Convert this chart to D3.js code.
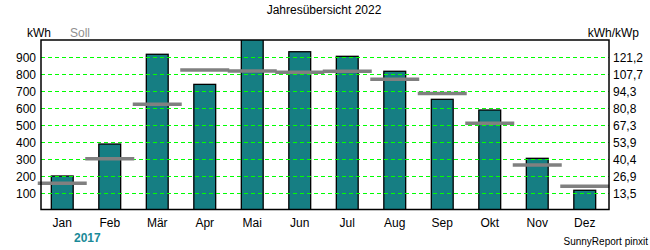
<!DOCTYPE html>
<html><head><meta charset="utf-8">
<script src="https://cdn.jsdelivr.net/npm/d3@7"></script>
<style>body{margin:0;background:#fff}svg{display:block;font-family:"Liberation Sans",Arial,sans-serif}</style>
</head><body>
<script>
const months = ["Jan","Feb","Mär","Apr","Mai","Jun","Jul","Aug","Sep","Okt","Nov","Dez"];
const actual = [200, 388, 916, 739, 1005, 931, 904, 816, 651, 588, 304, 116];
const soll = [157, 302, 622, 824, 818, 810, 816, 769, 686, 510, 265, 139];
const leftTicks = [100,200,300,400,500,600,700,800,900];
const rightLabels = ["13,5","26,9","40,4","53,9","67,3","80,8","94,3","107,7","121,2"];

const W=650,H=250, L=41, R=609, T=40, B=209.5;
const svg=d3.select("body").append("svg").attr("width",W).attr("height",H);
const x=d3.scaleBand().domain(months).range([38.5,608.5]).paddingInner(0.54).paddingOuter(0.27);
const y=d3.scaleLinear().domain([0,1000]).range([210,40]);

svg.append("text").attr("x",324).attr("y",14).attr("text-anchor","middle").attr("font-size",12).attr("fill","#000").text("Jahresübersicht 2022");
svg.append("text").attr("x",27).attr("y",37).attr("font-size",12).attr("fill","#000").text("kWh");
svg.append("text").attr("x",70).attr("y",37).attr("font-size",12).attr("fill","#909090").text("Soll");
svg.append("text").attr("x",639).attr("y",37).attr("text-anchor","end").attr("font-size",12).attr("fill","#000").text("kWh/kWp");

svg.append("clipPath").attr("id","c").append("rect").attr("x",L).attr("y",T).attr("width",R-L).attr("height",B-T);

// bars
svg.append("g").attr("clip-path","url(#c)").selectAll("rect").data(actual).join("rect")
  .attr("x",(d,i)=>x(months[i])).attr("width",x.bandwidth())
  .attr("y",d=>y(d)).attr("height",d=>y(0)-y(d))
  .attr("fill","#167e83").attr("stroke","#000").attr("stroke-width",1.3);

// grid (drawn over bars)
svg.append("g").selectAll("line").data(leftTicks).join("line")
  .attr("x1",L).attr("x2",R).attr("y1",d=>Math.round(y(d))+0.5).attr("y2",d=>Math.round(y(d))+0.5)
  .attr("shape-rendering","crispEdges")
  .attr("stroke","#00ff00").attr("stroke-width",1).attr("stroke-dasharray","4,3");

// soll
svg.append("g").selectAll("line").data(soll).join("line")
  .attr("x1",(d,i)=>x(months[i])+x.bandwidth()/2-24.5).attr("x2",(d,i)=>x(months[i])+x.bandwidth()/2+24.5)
  .attr("y1",d=>y(d)).attr("y2",d=>y(d)).attr("stroke","#808080").attr("stroke-width",3.5);

// frame
svg.append("rect").attr("x",L).attr("y",T).attr("width",R-L).attr("height",B-T).attr("fill","none").attr("stroke","#000").attr("stroke-width",1.5);

// left ticks
svg.append("g").selectAll("text").data(leftTicks).join("text")
  .attr("x",36).attr("y",d=>y(d)+4.5).attr("text-anchor","end").attr("font-size",12).attr("fill","#000").text(d=>d);
// right ticks
svg.append("g").selectAll("text").data(leftTicks).join("text")
  .attr("x",613).attr("y",d=>y(d)+4.5).attr("font-size",12).attr("fill","#000").text((d,i)=>rightLabels[i]);
// months
svg.append("g").selectAll("text").data(months).join("text")
  .attr("x",d=>x(d)+x.bandwidth()/2).attr("y",227).attr("text-anchor","middle").attr("font-size",12).attr("fill","#000").text(d=>d);

svg.append("text").attr("x",74).attr("y",242).attr("font-size",12).attr("font-weight","bold").attr("fill","#1a8a98").text("2017");
svg.append("text").attr("x",648).attr("y",245).attr("text-anchor","end").attr("font-size",10).attr("fill","#000").text("SunnyReport pinxit");
</script>
</body></html>
